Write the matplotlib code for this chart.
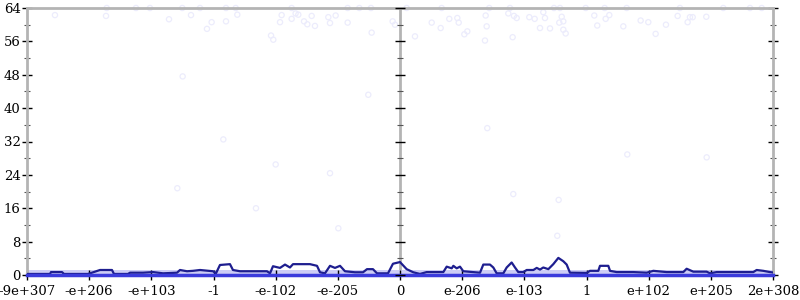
import numpy as np
import matplotlib
matplotlib.use('Agg')
import matplotlib.pyplot as plt

# x axis is in "tick units": one unit per labelled tick (float ordinal scale)
tick_labels = ['-9e+307', '-e+206', '-e+103', '-1', '-e-102', '-e-205', '0',
               'e-206', 'e-103', '1', 'e+102', 'e+205', '2e+308']
y_major = [0, 8, 16, 24, 32, 40, 48, 56, 64]
y_minor = [4, 12, 20, 28, 36, 44, 52, 60]

# smoothed error line
line_x = [0.0, 0.37, 0.386, 0.563, 0.595, 0.981, 1.013, 1.174, 1.367, 1.399,
          1.625, 1.657, 1.866, 2.027, 2.188, 2.413, 2.461, 2.574, 2.670, 2.783,
          2.992, 3.040, 3.104, 3.265, 3.313, 3.426, 3.860, 3.909, 3.957, 4.070,
          4.150, 4.230, 4.279, 4.552, 4.665, 4.713, 4.793, 4.874, 4.954, 5.035,
          5.115, 5.276, 5.405, 5.469, 5.565, 5.630, 5.807, 5.887, 6.0,
          6.107, 6.214, 6.321, 6.429, 6.697, 6.751, 6.832, 6.858, 6.912, 6.965,
          7.018, 7.287, 7.340, 7.447, 7.501, 7.555, 7.662, 7.716, 7.796, 7.850,
          7.903, 7.984, 8.038, 8.145, 8.199, 8.252, 8.305, 8.386, 8.466, 8.547,
          8.627, 8.681, 8.734, 9.003, 9.056, 9.19, 9.217, 9.351, 9.378, 9.485,
          9.646, 9.753, 9.968, 10.075, 10.289, 10.557, 10.611, 10.718, 10.933,
          10.986, 11.094, 11.361, 11.683, 11.737, 11.844, 11.951, 12.0]
line_y = [0.25, 0.25, 0.7, 0.7, 0.25, 0.25, 0.4, 1.2, 1.2, 0.25,
          0.25, 0.55, 0.55, 0.7, 0.4, 0.55, 1.2, 0.9, 1.0, 1.2,
          0.9, 0.4, 2.4, 2.6, 1.2, 0.9, 0.9, 0.4, 2.1, 1.7,
          2.5, 1.8, 2.6, 2.6, 2.2, 0.65, 0.4, 2.2, 1.7, 2.2,
          0.9, 0.65, 0.65, 1.4, 1.4, 0.4, 0.4, 2.7, 3.1,
          1.4, 0.65, 0.25, 0.7, 0.7, 2.0, 1.6, 2.2, 1.6, 2.0,
          0.9, 0.55, 2.5, 2.5, 1.8, 0.4, 0.4, 1.8, 3.0, 1.8,
          0.7, 0.7, 1.2, 1.2, 1.7, 1.3, 1.8, 1.4, 2.6, 4.1,
          3.3, 2.5, 0.55, 0.5, 1.0, 1.0, 2.2, 2.2, 1.0, 0.7,
          0.7, 0.7, 0.55, 1.0, 0.7, 0.7, 1.5, 0.8, 0.8,
          0.4, 0.7, 0.7, 0.7, 1.2, 1.0, 0.7, 0.6]

# faint scattered samples with large error
pts_x = [0.450, 1.271, 1.282, 1.753, 1.978, 2.284, 2.498, 2.638, 2.783, 2.895,
         2.970, 3.201, 3.201, 3.383, 3.357, 3.925, 3.962, 4.070, 4.096, 4.257,
         4.257, 4.321, 4.364, 4.456, 4.509, 4.579, 4.632, 4.847, 4.874, 4.965,
         5.158, 5.158, 5.346, 5.533, 5.544, 5.490, 2.504, 5.882, 5.919,
         3.158, 2.418, 4.0, 4.874, 3.683, 5.008,
         6.107, 6.241, 6.510, 6.654, 6.670, 6.793, 6.922, 6.944, 7.035, 7.083,
         7.378, 7.394, 7.367, 7.436, 7.742, 7.769, 7.833, 7.877, 7.812, 8.080,
         8.166, 8.252, 8.305, 8.332, 8.413, 8.477, 8.573, 8.601, 8.562, 8.627,
         8.627, 8.665, 8.987, 9.125, 9.173, 9.292, 9.308, 9.367, 9.592, 9.646,
         9.871, 9.994, 10.112, 10.278, 10.466, 10.503, 10.627, 10.664, 10.708,
         10.927, 11.200, 11.630, 11.818,
         7.404, 7.822, 8.552, 9.656, 10.933, 8.530]
pts_y = [62.3, 62.1, 64, 64, 64, 61.3, 64, 62.3, 64, 59.0,
         60.6, 60.8, 64, 62.4, 64, 57.4, 56.4, 60.6, 62.3, 64,
         61.4, 62.7, 62.4, 60.8, 60.1, 62.1, 59.7, 61.8, 60.4, 62.2,
         60.5, 64, 64, 64, 58.1, 43.2, 47.6, 60.8, 60.0,
         32.5, 20.8, 26.5, 24.4, 16.0, 11.2,
         64, 57.2, 60.5, 59.2, 64, 61.4, 61.6, 60.5, 57.7, 58.4,
         62.2, 59.6, 56.2, 64, 62.7, 64, 62.1, 61.6, 57.0, 61.8,
         61.4, 59.2, 63.0, 61.6, 59.1, 64, 64, 61.9, 60.5, 60.8,
         58.8, 57.9, 64, 62.2, 59.8, 64, 61.4, 62.3, 59.6, 64,
         61.0, 60.6, 57.8, 60.0, 62.1, 64, 60.6, 61.8, 61.8,
         61.9, 64, 64, 64,
         35.2, 19.4, 18.0, 28.9, 28.2, 9.4]

# dense band of low-error samples
band_low, band_high = 0.0, 1.3

fig = plt.figure(figsize=(8, 3), dpi=100)
ax = fig.add_axes([27/800, 25/300, 746/800, 267/300])

ax.set_xlim(0, len(tick_labels) - 1)
ax.set_ylim(0, 64)

ax.fill_between([0, len(tick_labels) - 1], band_low, band_high,
                color='#cdcdf6', lw=0, zorder=1)
ax.scatter(pts_x, pts_y, s=14, facecolors='none', edgecolors='#ececfc',
           lw=0.9, zorder=2, clip_on=False)
ax.plot(line_x, line_y, color='#1e1e8f', lw=1.6, zorder=3)
ax.axhline(band_low, color='#3b3bdc', lw=2.5, zorder=4, clip_on=False)

# middle axis at 0
mid = tick_labels.index('0')
ax.axvline(mid, color='#b4b4b4', lw=2, zorder=0)
ax.plot([mid] * len(y_major), y_major, ls='none', marker='_', ms=7,
        mew=1, color='black', zorder=5, clip_on=False)
ax.plot([mid] * len(y_minor), y_minor, ls='none', marker='_', ms=4,
        mew=0.8, color='#555555', zorder=5, clip_on=False)

for s in ax.spines.values():
    s.set_color('#b4b4b4')
    s.set_linewidth(2)

ax.set_xticks(range(len(tick_labels)))
ax.set_xticklabels(tick_labels)
ax.set_yticks(y_major)
ax.set_yticks(y_minor, minor=True)
ax.tick_params(axis='both', which='major', direction='inout', length=7,
               width=1, color='black', labelsize=9.5, pad=1,
               right=True, labelright=False)
ax.tick_params(axis='x', which='major', pad=4)
ax.tick_params(axis='y', which='minor', direction='inout', length=4,
               width=0.8, color='#555555', right=True)
for lab in ax.get_xticklabels() + ax.get_yticklabels():
    lab.set_family('DejaVu Serif')

fig.savefig('out.png', dpi=100)
